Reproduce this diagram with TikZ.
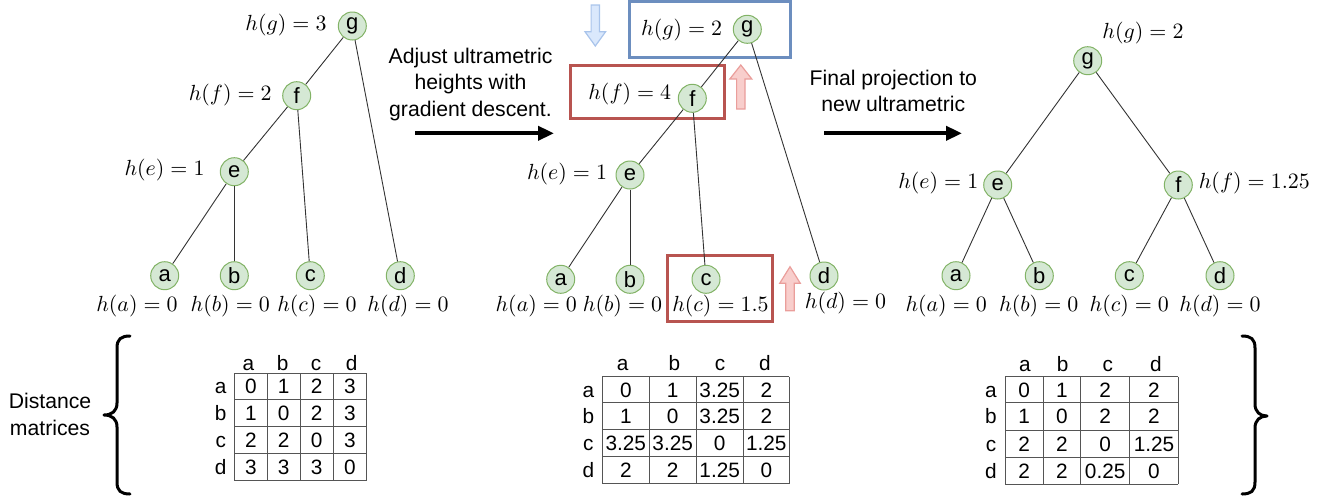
\documentclass[tikz,border=0pt]{standalone}
\usepackage{fontspec}
\setsansfont{Liberation Sans}
\usetikzlibrary{arrows.meta}
\definecolor{nodefill}{HTML}{D5E8D4}
\definecolor{nodedraw}{HTML}{82B366}
\definecolor{boxblue}{HTML}{6C8EBF}
\definecolor{boxred}{HTML}{B85450}
\definecolor{arrowbluefill}{HTML}{DAE8FC}
\definecolor{arrowbluedraw}{HTML}{A9C4EB}
\definecolor{arrowredfill}{HTML}{F8CECC}
\definecolor{arrowreddraw}{HTML}{EA9E9B}
\definecolor{edgecol}{HTML}{333333}
\definecolor{gridcol}{HTML}{555555}
\begin{document}
\begin{tikzpicture}[x=0.5pt,y=-0.5pt,
  treenode/.style={circle,fill=nodefill,draw=nodedraw,line width=0.5pt,minimum size=14pt,inner sep=0pt,font=\sffamily\fontsize{11}{12}\selectfont},
  hlabel/.style={inner sep=0pt,font=\fontsize{10.8}{13}\selectfont},
  treeedge/.style={draw=edgecol,line width=0.45pt},
  sidetext/.style={align=center,font=\sffamily\fontsize{10.6}{13.2}\selectfont,inner sep=0pt},
  bigarrow/.style={line width=1.9pt,-{Triangle[length=8pt,width=7pt]}},
  hlbox/.style={line width=1.5pt},
  bluearrow/.style={fill=arrowbluefill,draw=arrowbluedraw,line width=0.6pt},
  redarrow/.style={fill=arrowredfill,draw=arrowreddraw,line width=0.6pt},
  celltext/.style={font=\sffamily\fontsize{10.4}{12}\selectfont,inner sep=0pt,text height=7.4pt,text depth=0pt},
  gridline/.style={draw=gridcol,line width=0.5pt},
  bracepath/.style={line width=1.5pt,line cap=round,line join=round}
]
\useasboundingbox (0,0) rectangle (1328,499);

% ---------------- highlight boxes ----------------
\draw[hlbox,draw=boxblue] (629.3,1.7) rectangle (790,57.3);
\draw[hlbox,draw=boxred] (570.7,65.7) rectangle (724.3,118.3);
\draw[hlbox,draw=boxred] (667.3,255) rectangle (772.7,321.7);

% block arrows
\draw[bluearrow] (591.1,5) -- (599.5,5) -- (599.5,31.7) -- (605.6,31.7) -- (595.3,46) -- (585,31.7) -- (591.1,31.7) -- cycle;
\draw[redarrow] (736.6,109) -- (745,109) -- (745,79) -- (751.8,79) -- (740.8,65) -- (729.8,79) -- (736.6,79) -- cycle;
\draw[redarrow] (785.8,310.7) -- (794.2,310.7) -- (794.2,283.3) -- (800.3,283.3) -- (790,266.7) -- (779.7,283.3) -- (785.8,283.3) -- cycle;

% ---------------- tree 1 ----------------
\node[treenode] (g1) at (352.3,26) {g};
\node[treenode] (f1) at (296.7,95.7) {f};
\node[treenode] (e1) at (234.3,171.7) {e};
\node[treenode] (a1) at (164.7,275.7) {a};
\node[treenode] (b1) at (234.3,275.7) {b};
\node[treenode] (c1) at (310.3,275.7) {c};
\node[treenode] (d1) at (400.3,275.7) {d};
\draw[treeedge] (g1) -- (f1);
\draw[treeedge] (f1) -- (e1);
\draw[treeedge] (e1) -- (a1);
\draw[treeedge] (e1) -- (b1);
\draw[treeedge] (f1) -- (c1);
\draw[treeedge] (g1) -- (d1);
\node[hlabel] (lg1) at (286,25) {$h(g)=3$};
\node[hlabel] (lf1) at (230.3,95) {$h(f)=2$};
\node[hlabel] (le1) at (164.5,170) {$h(e)=1$};
\node[hlabel] (la1) at (137,306) {$h(a)=0$};
\node[hlabel] (lb1) at (230.3,306) {$h(b)=0$};
\node[hlabel] (lc1) at (317,306) {$h(c)=0$};
\node[hlabel] (ld1) at (408,306) {$h(d)=0$};

% ---------------- tree 2 ----------------
\node[treenode] (g2) at (747.3,29.3) {g};
\node[treenode] (f2) at (692.3,98.3) {f};
\node[treenode] (e2) at (630,175) {e};
\node[treenode] (a2) at (560.7,279.3) {a};
\node[treenode] (b2) at (630,279.3) {b};
\node[treenode] (c2) at (706,279.3) {c};
\node[treenode] (d2) at (824,276) {d};
\draw[treeedge] (g2) -- (f2);
\draw[treeedge] (f2) -- (e2);
\draw[treeedge] (e2) -- (a2);
\draw[treeedge] (e2) -- (b2);
\draw[treeedge] (f2) -- (c2);
\draw[treeedge] (g2) -- (d2);
\node[hlabel] (lg2) at (681.7,30) {$h(g)=2$};
\node[hlabel] (lf2) at (629.8,94.3) {$h(f)=4$};
\node[hlabel] (le2) at (567,174) {$h(e)=1$};
\node[hlabel] (la2) at (536.3,306) {$h(a)=0$};
\node[hlabel] (lb2) at (622.5,306) {$h(b)=0$};
\node[hlabel] (lc2) at (720.5,306) {$h(c)=1.5$};
\node[hlabel] (ld2) at (845.5,302.7) {$h(d)=0$};

% ---------------- tree 3 ----------------
\node[treenode] (g3) at (1087.7,60.7) {g};
\node[treenode] (e3) at (997.7,185) {e};
\node[treenode] (f3) at (1178.3,185) {f};
\node[treenode] (a3) at (956,275.7) {a};
\node[treenode] (b3) at (1039.3,275.7) {b};
\node[treenode] (c3) at (1129.3,275.7) {c};
\node[treenode] (d3) at (1220,275.7) {d};
\draw[treeedge] (g3) -- (e3);
\draw[treeedge] (g3) -- (f3);
\draw[treeedge] (e3) -- (a3);
\draw[treeedge] (e3) -- (b3);
\draw[treeedge] (f3) -- (c3);
\draw[treeedge] (f3) -- (d3);
\node[hlabel] (lg3) at (1143,32.7) {$h(g)=2$};
\node[hlabel] (le3) at (938.3,182.7) {$h(e)=1$};
\node[hlabel] (lf3) at (1254.3,182.7) {$h(f)=1.25$};
\node[hlabel] (la3) at (946.2,306) {$h(a)=0$};
\node[hlabel] (lb3) at (1038.8,306) {$h(b)=0$};
\node[hlabel] (lc3) at (1129.3,306) {$h(c)=0$};
\node[hlabel] (ld3) at (1220,306) {$h(d)=0$};

% ---------------- big arrows ----------------
\node[sidetext] (t1) at (470.5,84.5) {Adjust ultrametric\\heights with\\gradient descent.};
\coordinate (s1) at (415,133.3);
\coordinate (e1end) at (554,133.3);
\draw[bigarrow] (s1) -- (e1end);
\node[sidetext] (t2) at (893.3,90.8) {Final projection to\\new ultrametric};
\coordinate (s2) at (824,133.3);
\coordinate (e2end) at (962,133.3);
\draw[bigarrow] (s2) -- (e2end);

% ---------------- distance matrices ----------------
\node[sidetext] (dm) at (50,414.5) {Distance\\matrices};
\draw[bracepath] (130,336) .. controls (121,336) and (117,339) .. (117,348) -- (117,403) .. controls (117,411) and (112,415) .. (104,415) .. controls (112,415) and (117,419) .. (117,427) -- (117,482) .. controls (117,491) and (121,494) .. (130,494);
\draw[bracepath] (1242,336) .. controls (1251,336) and (1255,339) .. (1255,348) -- (1255,404) .. controls (1255,412) and (1260,416) .. (1267,416) .. controls (1260,416) and (1255,420) .. (1255,428) -- (1255,482) .. controls (1255,491) and (1251,494) .. (1242,494);

% table 1
\foreach \xx in {234.3,267.3,300,333.3,366.7} \draw[gridline] (\xx,373.3) -- (\xx,480.7);
\foreach \yy in {373.3,399.3,426.7,453.3,480.7} \draw[gridline] (234.3,\yy) -- (366.7,\yy);
\foreach \xx/\t in {248.3/a,282.7/b,316/c,351.7/d} \node[celltext] (m1h\t) at (\xx,362.7) {\t};
\foreach \yy/\t in {386.3/a,413/b,440/c,467/d} \node[celltext] (m1r\t) at (220.7,\yy) {\t};
\foreach \xx/\v [count=\j] in {250.8/0,283.7/1,316.7/2,350/3} \node[celltext] (m1a\j) at (\xx,386.3) {\v};
\foreach \xx/\v [count=\j] in {250.8/1,283.7/0,316.7/2,350/3} \node[celltext] (m1b\j) at (\xx,413) {\v};
\foreach \xx/\v [count=\j] in {250.8/2,283.7/2,316.7/0,350/3} \node[celltext] (m1c\j) at (\xx,440) {\v};
\foreach \xx/\v [count=\j] in {250.8/3,283.7/3,316.7/3,350/0} \node[celltext] (m1d\j) at (\xx,467) {\v};

% table 2
\foreach \xx in {602.3,649.3,696,743.3,789.3} \draw[gridline] (\xx,376.7) -- (\xx,483.7);
\foreach \yy in {376.7,402.7,429.3,456.7,483.7} \draw[gridline] (602.3,\yy) -- (789.3,\yy);
\foreach \xx/\t in {622.7/a,674.3/b,720/c,765/d} \node[celltext] (m2h\t) at (\xx,362.7) {\t};
\foreach \yy/\t in {389.7/a,416/b,443/c,470.2/d} \node[celltext] (m2r\t) at (588.3,\yy) {\t};
\foreach \xx/\v [count=\j] in {625.8/0,672.7/1,719.7/3.25,766.3/2} \node[celltext] (m2a\j) at (\xx,389.7) {\v};
\foreach \xx/\v [count=\j] in {625.8/1,672.7/0,719.7/3.25,766.3/2} \node[celltext] (m2b\j) at (\xx,416) {\v};
\foreach \xx/\v [count=\j] in {625.8/3.25,672.7/3.25,719.7/0,766.3/1.25} \node[celltext] (m2c\j) at (\xx,443) {\v};
\foreach \xx/\v [count=\j] in {625.8/2,672.7/2,719.7/1.25,766.3/0} \node[celltext] (m2d\j) at (\xx,470.2) {\v};

% table 3
\foreach \xx in {1005,1043.3,1080.7,1129.7,1178.3} \draw[gridline] (\xx,376.7) -- (\xx,484.3);
\foreach \yy in {376.7,402.7,430,457.3,484.3} \draw[gridline] (1005,\yy) -- (1178.3,\yy);
\foreach \xx/\t in {1025/a,1062.7/b,1107.7/c,1156/d} \node[celltext] (m3h\t) at (\xx,364.5) {\t};
\foreach \yy/\t in {389.7/a,416.3/b,443.7/c,470.8/d} \node[celltext] (m3r\t) at (991,\yy) {\t};
\foreach \xx/\v [count=\j] in {1024.2/0,1062/1,1105.2/2,1154/2} \node[celltext] (m3a\j) at (\xx,389.7) {\v};
\foreach \xx/\v [count=\j] in {1024.2/1,1062/0,1105.2/2,1154/2} \node[celltext] (m3b\j) at (\xx,416.3) {\v};
\foreach \xx/\v [count=\j] in {1024.2/2,1062/2,1105.2/0,1154/1.25} \node[celltext] (m3c\j) at (\xx,443.7) {\v};
\foreach \xx/\v [count=\j] in {1024.2/2,1062/2,1105.2/0.25,1154/0} \node[celltext] (m3d\j) at (\xx,470.8) {\v};
\end{tikzpicture}
\end{document}
